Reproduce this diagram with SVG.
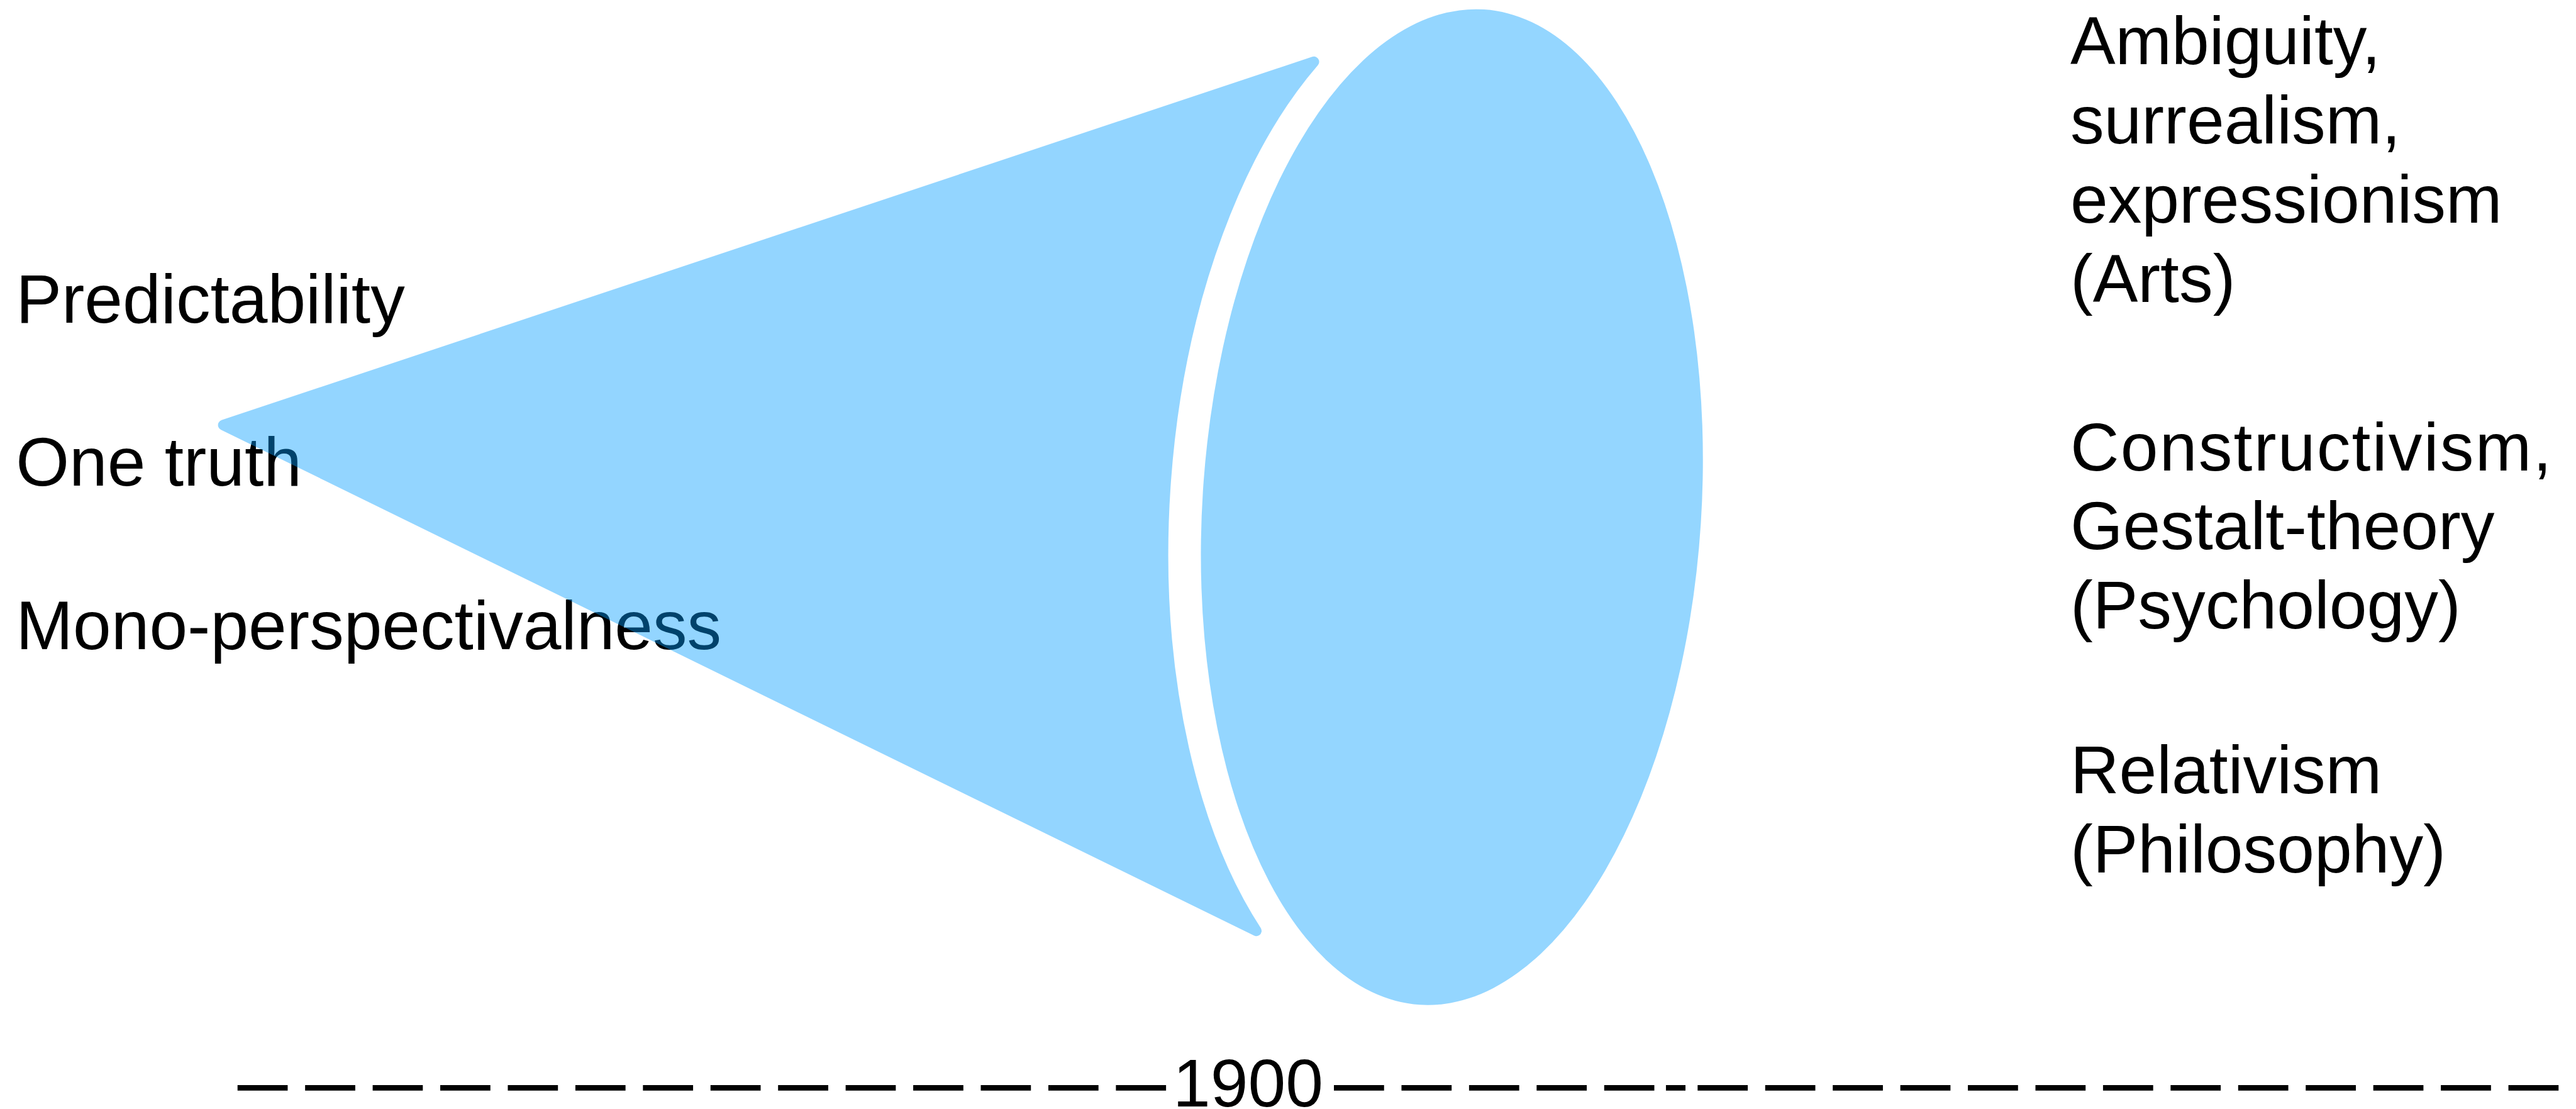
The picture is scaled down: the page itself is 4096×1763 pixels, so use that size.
<svg xmlns="http://www.w3.org/2000/svg" width="4096" height="1763" viewBox="0 0 4096 1763">
  <style>
    .t { font-family: "Liberation Sans", Arial, Helvetica, sans-serif; font-size: 128px; fill: #000; }
    .l { font-size: 130px; }
    .blue { fill: #009DFF; opacity: 0.42; }
    .dash { stroke: #000; stroke-width: 10.5; stroke-dasharray: 95 33; fill: none; }
  </style>
  <rect width="4096" height="1763" fill="#fff"/>
  <g transform="scale(0.83934)">
    <g id="left-labels">
      <text class="t l" x="30" y="611">Predictability</text>
      <text class="t l" x="30" y="920">One truth</text>
      <text class="t l" x="30" y="1230">Mono-perspectivalness</text>
    </g>
    <g id="cone">
      <path class="blue" stroke="#009DFF" stroke-width="20" stroke-linejoin="round"
            d="M 423 805 L 2489 117 A 537.6 1009.5 3.69 0 0 2380 1763 Z"/>
    </g>
    <g id="disc">
      <ellipse class="blue" cx="2750.5" cy="960.5" rx="472.6" ry="944.5" transform="rotate(3.69 2750.5 960.5)"/>
    </g>
    <g id="right-labels">
      <text class="t" x="3922" y="122">Ambiguity,</text>
      <text class="t" x="3922" y="272">surrealism,</text>
      <text class="t" x="3922" y="422">expressionism</text>
      <text class="t" x="3922" y="572">(Arts)</text>
      <text class="t" x="3922" y="891" textLength="912" lengthAdjust="spacing">Constructivism,</text>
      <text class="t" x="3922" y="1040">Gestalt-theory</text>
      <text class="t" x="3922" y="1190">(Psychology)</text>
      <text class="t" x="3922" y="1502">Relativism</text>
      <text class="t" x="3922" y="1653">(Philosophy)</text>
    </g>
    <g id="timeline">
      <line class="dash" x1="450" y1="2060.5" x2="2209" y2="2060.5"/>
      <line class="dash" x1="2527" y1="2060.5" x2="3134" y2="2060.5"/>
      <line x1="3156" y1="2060.5" x2="3193" y2="2060.5" stroke="#000" stroke-width="10.5"/>
      <line class="dash" x1="3216" y1="2060.5" x2="4847" y2="2060.5"/>
      <text class="t" x="2222" y="2096">1900</text>
    </g>
  </g>
</svg>
